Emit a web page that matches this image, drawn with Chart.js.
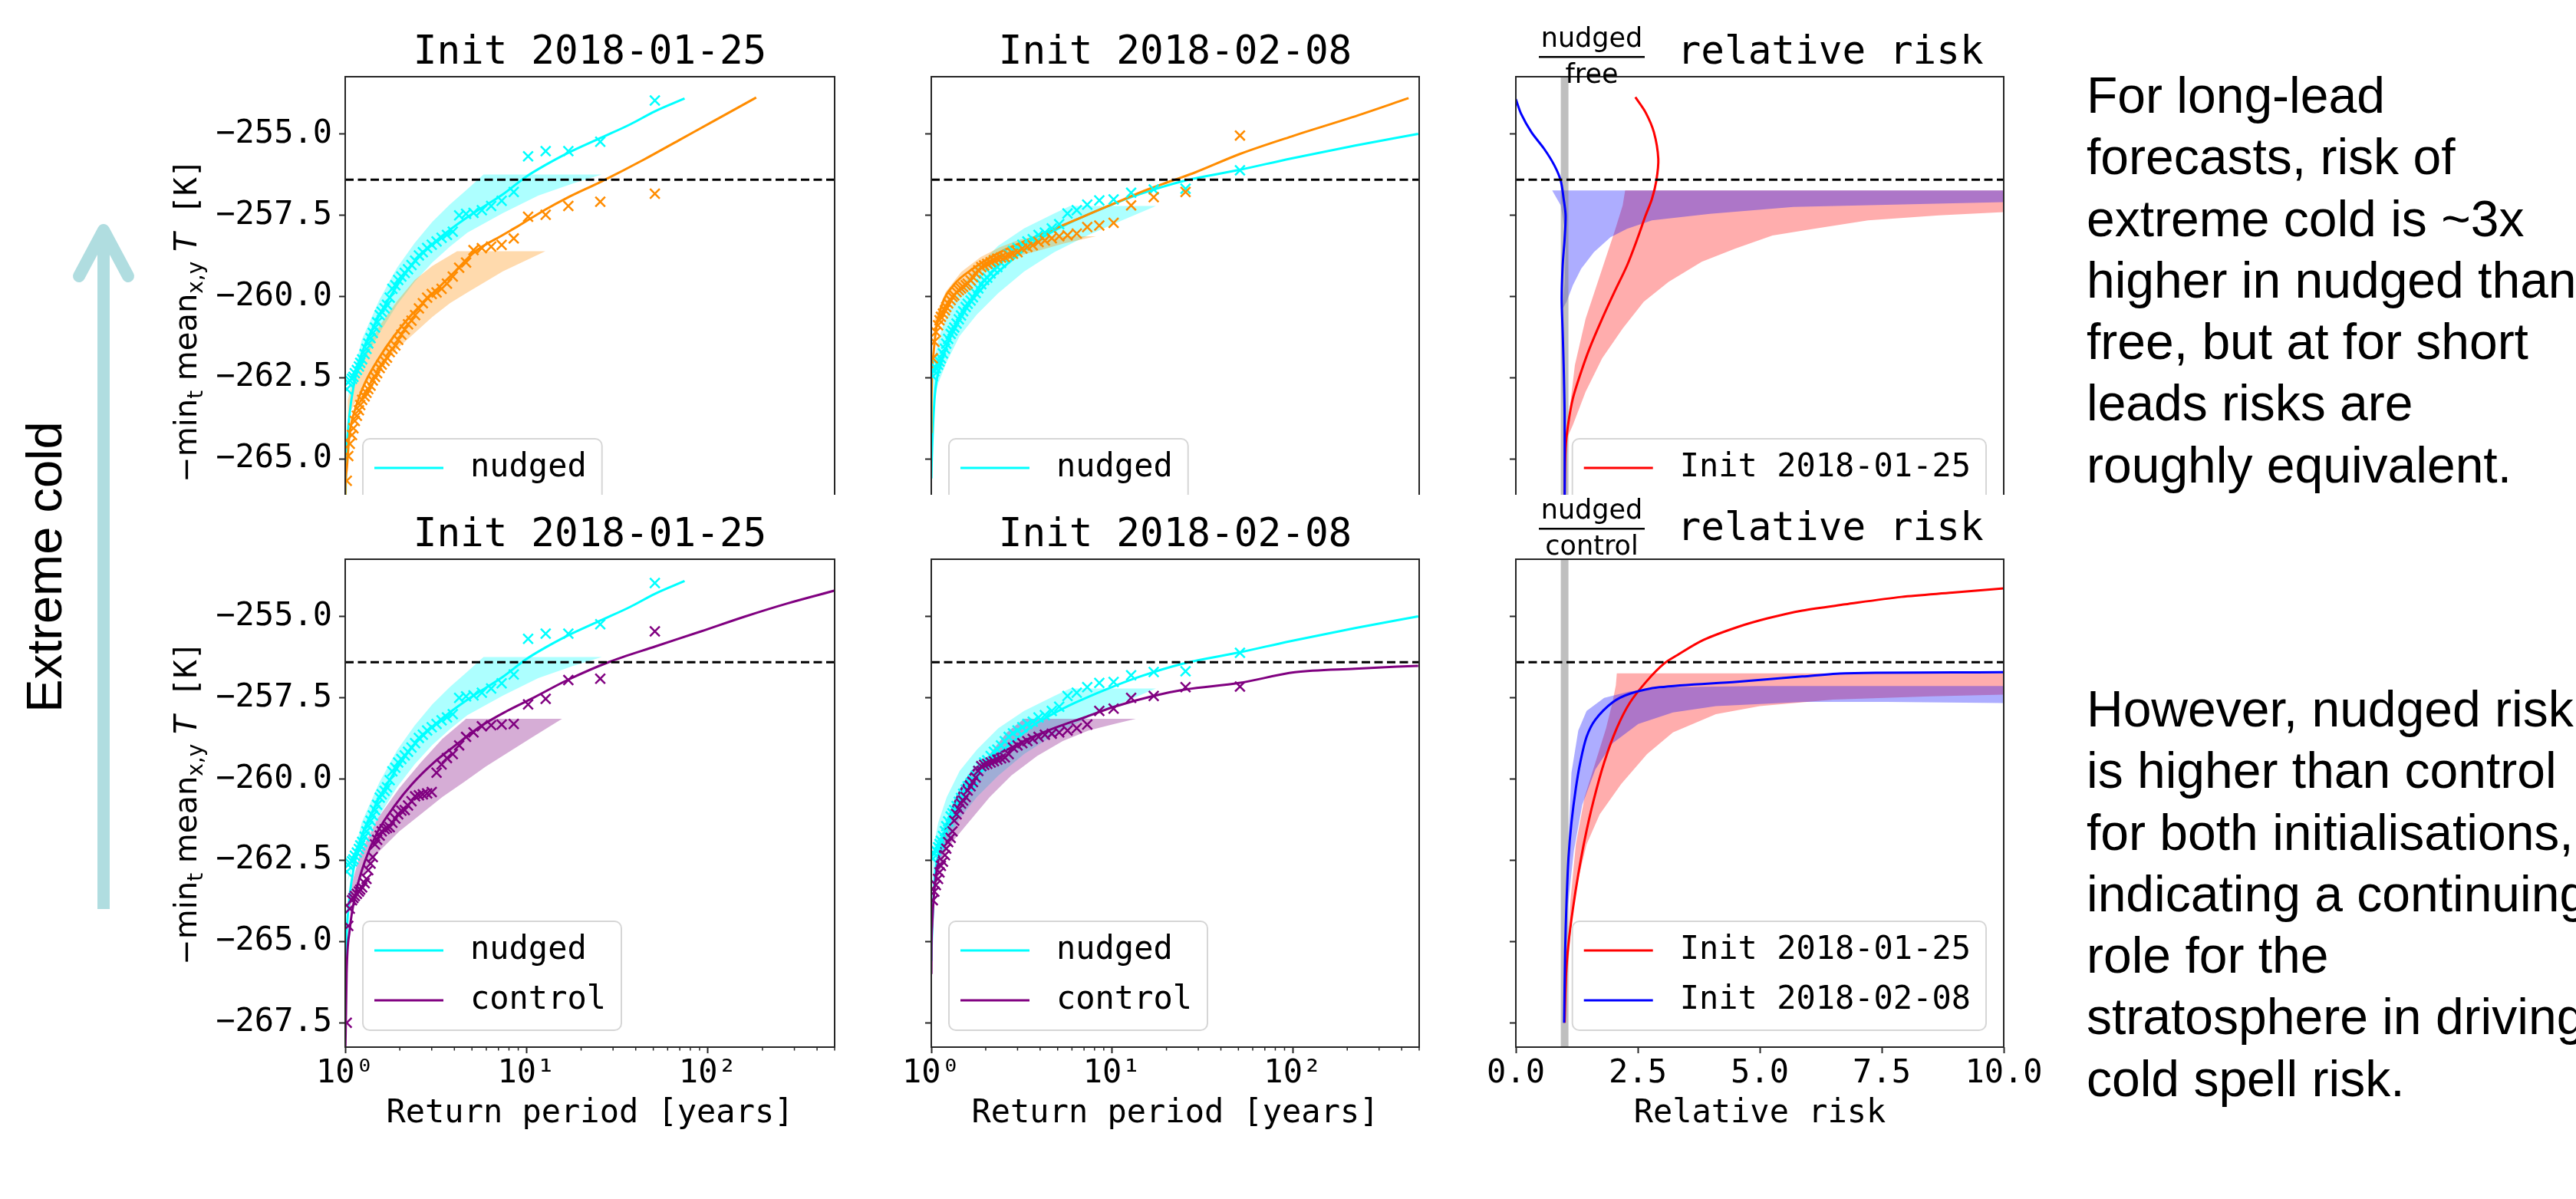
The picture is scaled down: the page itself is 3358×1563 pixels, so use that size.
<!DOCTYPE html>
<html>
<head>
<meta charset="utf-8">
<title>Extreme cold return periods and relative risk</title>
<script src="https://cdn.jsdelivr.net/npm/chart.js@4.4.1/dist/chart.umd.min.js"></script>
<style>
  html, body { margin: 0; padding: 0; background: #fff; }
  body { position: relative; width: 3358px; height: 1563px; overflow: hidden; font-family: "Liberation Sans", Arial, sans-serif; }
  canvas { position: absolute; }
  #toprow { position: absolute; left: 0; top: 0; width: 3358px; height: 645px; overflow: hidden; }
  #side { position: absolute; left: -142px; top: 699px; width: 400px; height: 80px; line-height: 80px; font-size: 65px; text-align: center; transform: rotate(-90deg); white-space: nowrap; color: #000; }
  .note { position: absolute; left: 2720px; font-size: 66px; line-height: 80.3px; white-space: nowrap; color: #000; }
</style>
</head>
<body>
<svg width="300" height="1563" style="position:absolute;left:0;top:0">
  <line x1="135" y1="1185" x2="135" y2="302" stroke="#b0dde0" stroke-width="16"/>
  <polyline points="103,360 135,300 167,360" fill="none" stroke="#b0dde0" stroke-width="16" stroke-linecap="round" stroke-linejoin="round"/>
</svg>
<div id="side">Extreme cold</div>

<div id="toprow">
  <canvas id="tl" width="948" height="830" style="left:200px;top:28px"></canvas>
  <canvas id="tm" width="756" height="830" style="left:1154px;top:28px"></canvas>
  <canvas id="tr" width="756" height="830" style="left:1916px;top:28px"></canvas>
</div>
<canvas id="bl" width="948" height="830" style="left:200px;top:657px"></canvas>
<canvas id="bm" width="756" height="830" style="left:1154px;top:657px"></canvas>
<canvas id="br" width="756" height="838" style="left:1916px;top:649px"></canvas>

<div class="note" style="top:84px">For long-lead<br>forecasts, risk of<br>extreme cold is ~3x<br>higher in nudged than<br>free, but at for short<br>leads risks are<br>roughly equivalent.</div>
<div class="note" style="top:884px">However, nudged risk<br>is higher than control<br>for both initialisations,<br>indicating a continuing<br>role for the<br>stratosphere in driving<br>cold spell risk.</div>

<script>
// axis setup
const Y_MIN = -268.25, Y_MAX = -253.23;
const yTicks = [-267.5, -265, -262.5, -260, -257.5, -255];
const logMajorTicks = [1, 10, 100];
const logMinorTicks = [2, 3, 4, 5, 6, 7, 8, 9, 20, 30, 40, 50, 60, 70, 80, 90, 200, 300, 400, 500];
const riskTicks = [0, 2.5, 5, 7.5, 10];
const thresholdK = -256.4;

// empirical return periods of the ranked members [years]
const returnPeriods = [51, 25.5, 17, 12.75, 10.2, 8.5, 7.29, 6.38, 5.67, 5.1, 4.64, 4.25, 3.92, 3.64, 3.4, 3.19, 3.0, 2.83, 2.68, 2.55,
  2.43, 2.32, 2.22, 2.13, 2.04, 1.96, 1.89, 1.82, 1.76, 1.7, 1.65, 1.59, 1.55, 1.5, 1.46, 1.42, 1.38, 1.34, 1.31, 1.28,
  1.24, 1.21, 1.19, 1.16, 1.13, 1.11, 1.09, 1.06, 1.04, 1.02];

// -min_t mean_xy T [K] of each member, same order as returnPeriods
const nudgedJan25 = [-253.96, -255.23, -255.52, -255.52, -255.68, -256.78, -257.05, -257.21, -257.34, -257.42, -257.45, -257.50, -258.00, -258.10, -258.19, -258.30, -258.40, -258.50, -258.63, -258.73,
  -258.89, -259.03, -259.16, -259.27, -259.38, -259.49, -259.65, -259.76, -260.03, -260.25, -260.36, -260.47, -260.57, -260.79, -260.95, -261.12, -261.28, -261.44, -261.61, -261.77,
  -261.93, -262.04, -262.15, -262.26, -262.36, -262.47, -262.53, -262.58, -262.64, -262.85];
const freeJan25 = [-256.83, -257.08, -257.21, -257.48, -257.54, -258.21, -258.41, -258.46, -258.51, -258.57, -258.95, -259.11, -259.38, -259.60, -259.76, -259.87, -259.92, -260.03, -260.20, -260.36,
  -260.57, -260.74, -260.85, -261.01, -261.17, -261.33, -261.50, -261.61, -261.71, -261.88, -261.98, -262.09, -262.20, -262.36, -262.47, -262.58, -262.74, -262.85, -262.96, -263.07,
  -263.18, -263.34, -263.50, -263.67, -263.83, -264.05, -264.26, -264.53, -264.91, -265.67];
const controlJan25 = [-255.45, -256.91, -256.95, -257.53, -257.70, -258.30, -258.32, -258.34, -258.37, -258.56, -258.70, -258.96, -259.23, -259.35, -259.55, -259.80, -260.40, -260.44, -260.47, -260.50,
  -260.53, -260.68, -260.81, -260.95, -260.97, -261.08, -261.21, -261.34, -261.48, -261.50, -261.54, -261.61, -261.74, -261.87, -262.01, -262.40, -262.60, -262.80, -263.07, -263.20,
  -263.33, -263.40, -263.46, -263.53, -263.60, -263.66, -263.73, -263.99, -264.52, -267.50];
const nudgedFeb08 = [-256.11, -256.68, -256.70, -256.80, -257.01, -257.04, -257.17, -257.34, -257.44, -257.77, -257.90, -258.03, -258.10, -258.23, -258.30, -258.40, -258.50, -258.59, -258.70, -258.83,
  -258.96, -259.09, -259.16, -259.29, -259.42, -259.49, -259.62, -259.75, -259.89, -260.02, -260.12, -260.22, -260.32, -260.45, -260.58, -260.70, -260.83, -260.95, -261.05, -261.15,
  -261.30, -261.45, -261.60, -261.75, -261.90, -262.00, -262.10, -262.20, -262.30, -262.45];
const freeFeb08 = [-255.04, -256.78, -256.94, -257.19, -257.73, -257.81, -257.86, -258.06, -258.11, -258.14, -258.20, -258.27, -258.32, -258.42, -258.47, -258.52, -258.63, -258.68, -258.73, -258.78,
  -258.80, -258.83, -258.88, -258.94, -258.99, -259.04, -259.09, -259.19, -259.29, -259.40, -259.50, -259.60, -259.65, -259.70, -259.75, -259.80, -259.86, -259.96, -260.01, -260.11,
  -260.21, -260.32, -260.42, -260.52, -260.62, -260.73, -260.88, -261.09, -261.39, -261.90];
const controlFeb08 = [-257.15, -257.17, -257.44, -257.50, -257.83, -257.90, -258.32, -258.43, -258.50, -258.56, -258.60, -258.63, -258.70, -258.76, -258.83, -258.89, -258.96, -259.03, -259.23, -259.33,
  -259.36, -259.40, -259.45, -259.49, -259.53, -259.56, -259.60, -259.75, -259.95, -260.09, -260.22, -260.35, -260.55, -260.66, -260.75, -260.92, -261.08, -261.28, -261.61, -261.81,
  -261.94, -262.14, -262.34, -262.54, -262.67, -262.87, -263.07, -263.26, -263.46, -263.73];

// fitted return level curves [return period, K]
const nudgedJan25Fit = [[1.002, -266.6], [1.01, -265.35], [1.03, -264.3], [1.08, -263.2], [1.18, -262.1], [1.41, -261.0], [1.77, -260.0], [2.31, -259.05], [3.31, -258.2],
  [4.73, -257.55], [7.41, -256.85], [10, -256.3], [12.7, -255.95], [16.6, -255.6], [26, -255.1], [37.2, -254.7], [50.8, -254.3], [74.4, -253.9]];
const freeJan25Fit = [[1.001, -266.5], [1.003, -265.9], [1.018, -265.35], [1.055, -264.26], [1.13, -263.5], [1.29, -262.64], [1.54, -261.88], [1.85, -261.23], [2.31, -260.57],
  [3.02, -259.92], [3.96, -259.27], [5.18, -258.62], [7.41, -258.1], [8.86, -257.85], [12.7, -257.32], [16.6, -256.97], [26, -256.45], [44.4, -255.78], [69.5, -255.18], [108.9, -254.58], [184.7, -253.87]];
const controlJan25Fit = [[1.002, -268.3], [1.007, -267.6], [1.018, -265.98], [1.058, -264.66], [1.149, -263.46], [1.282, -262.54], [1.512, -261.61], [1.88, -260.81], [2.34, -260.15],
  [3.08, -259.49], [4.05, -258.96], [5.62, -258.36], [7.81, -257.9], [10.86, -257.5], [16.8, -256.95], [28.3, -256.4], [51.6, -255.91], [91.8, -255.45], [158.8, -255.0], [274.6, -254.59], [504, -254.19]];
const nudgedFeb08Fit = [[1.001, -265.6], [1.003, -265.32], [1.011, -264.66], [1.045, -263.07], [1.122, -262.14], [1.286, -261.21], [1.602, -260.28], [2.106, -259.49], [2.77, -258.89],
  [3.64, -258.36], [4.79, -257.97], [6.3, -257.64], [9.24, -257.24], [14.3, -256.84], [24.8, -256.44], [50.5, -256.1], [97.3, -255.75], [221, -255.35], [494, -254.99]];
const freeFeb08Fit = [[1.001, -264.2], [1.003, -263.13], [1.023, -261.9], [1.059, -261.08], [1.142, -260.27], [1.326, -259.65], [1.7, -259.14], [2.41, -258.63], [3.96, -258.11],
  [6.51, -257.6], [10.7, -257.09], [14.45, -256.78], [21.5, -256.43], [29, -256.17], [50.9, -255.61], [100.7, -255.05], [212.6, -254.48], [437, -253.89]];
const controlFeb08Fit = [[1.001, -266.0], [1.003, -265.19], [1.011, -264.52], [1.033, -263.6], [1.08, -262.67], [1.153, -261.87], [1.252, -261.21], [1.359, -260.68], [1.475, -260.28],
  [1.602, -259.95], [1.74, -259.69], [1.94, -259.52], [2.22, -259.29], [2.77, -259.03], [3.45, -258.76], [4.79, -258.43], [7.03, -258.1], [10.3, -257.77], [16.9, -257.44], [25.4, -257.24],
  [50.4, -257.04], [102.8, -256.71], [221, -256.6], [494, -256.51]];

// uncertainty bands [return period, K]: upper and lower edges
const nudgedJan25BandUpper = [[1.023, -263.18], [1.234, -261.33], [1.546, -260.09], [1.932, -259.11], [2.416, -258.35], [3.02, -257.7], [3.78, -257.16], [4.72, -256.69], [5.79, -256.24], [26, -256.24]];
const nudgedJan25BandLower = [[1.023, -263.18], [1.234, -262.09], [1.546, -261.12], [1.932, -260.25], [2.416, -259.54], [3.02, -258.95], [3.78, -258.46], [4.72, -258.03], [7.41, -257.43], [11.6, -256.89], [18.1, -256.51], [26, -256.24]];
const freeJan25BandUpper = [[1.032, -263.18], [1.234, -261.88], [1.546, -260.9], [1.932, -260.14], [2.416, -259.49], [3.02, -259.06], [3.78, -258.73], [4.14, -258.6], [12.7, -258.6]];
const freeJan25BandLower = [[1.032, -263.72], [1.234, -262.85], [1.546, -262.2], [1.932, -261.61], [2.416, -261.12], [3.02, -260.63], [3.78, -260.2], [4.72, -259.87], [7.4, -259.22], [12.7, -258.6]];
const controlJan25BandUpper = [[1.058, -263.46], [1.213, -262.27], [1.51, -261.21], [1.987, -260.28], [2.61, -259.49], [3.43, -258.76], [4.64, -258.14], [15.7, -258.14]];
const controlJan25BandLower = [[1.058, -263.99], [1.213, -263.07], [1.51, -262.27], [1.987, -261.61], [2.61, -261.08], [3.43, -260.55], [4.52, -260.09], [5.94, -259.62], [7.81, -259.2], [10.85, -258.7], [15.7, -258.14]];
const nudgedFeb08BandUpper = [[1.022, -262.14], [1.092, -261.34], [1.218, -260.55], [1.435, -259.75], [1.787, -259.09], [2.35, -258.43], [3.26, -257.9], [4.79, -257.44], [5.86, -257.21], [17.5, -257.21]];
const nudgedFeb08BandLower = [[1.022, -263.33], [1.092, -262.67], [1.218, -262.01], [1.435, -261.21], [1.787, -260.55], [2.35, -259.89], [3.26, -259.23], [4.79, -258.63], [7.42, -258.1], [11.5, -257.64], [17.5, -257.21]];
const freeFeb08BandUpper = [[1.044, -260.68], [1.2, -259.86], [1.464, -259.24], [1.878, -258.78], [2.409, -258.47], [3.09, -258.24], [3.96, -258.14], [8.15, -258.14]];
const freeFeb08BandLower = [[1.044, -261.09], [1.2, -260.37], [1.464, -259.75], [1.878, -259.24], [2.409, -258.93], [3.09, -258.73], [3.96, -258.58], [5.34, -258.37], [8.15, -258.14]];
const controlFeb08BandUpper = [[1.033, -263.07], [1.218, -261.34], [1.602, -259.89], [2.106, -259.23], [2.62, -258.56], [3.26, -258.14], [13.55, -258.14]];
const controlFeb08BandLower = [[1.033, -263.46], [1.218, -262.14], [1.602, -261.34], [2.106, -260.55], [2.77, -259.89], [3.85, -259.29], [5.34, -258.83], [7.42, -258.5], [10.3, -258.3], [13.55, -258.14]];

// relative risk curves [ratio, K]
const riskFreeJan25 = [[2.45, -253.86], [2.66, -254.33], [2.83, -254.94], [2.92, -255.76], [2.88, -256.43], [2.79, -256.99], [2.66, -257.5], [2.49, -258.22], [2.28, -259.04],
  [2.02, -259.86], [1.77, -260.68], [1.51, -261.6], [1.34, -262.31], [1.17, -263.13], [1.07, -263.95], [1.02, -264.67], [1.0, -266.1], [1.0, -267.6]];
const riskFreeFeb08 = [[0, -253.92], [0.11, -254.38], [0.32, -254.94], [0.58, -255.45], [0.79, -255.96], [0.92, -256.43], [0.98, -256.99], [1.02, -257.5], [1.0, -258.22],
  [0.96, -259.04], [0.94, -260.06], [0.96, -261.09], [0.98, -262.11], [1.0, -263.65], [1.0, -267.6]];
const riskControlJan25 = [[10, -254.13], [8.95, -254.26], [7.9, -254.39], [6.75, -254.62], [5.87, -254.81], [5.16, -255.05], [4.54, -255.32], [3.84, -255.72], [3.31, -256.18],
  [3.04, -256.44], [2.69, -256.97], [2.34, -257.64], [2.07, -258.43], [1.81, -259.49], [1.59, -260.68], [1.41, -261.87], [1.28, -262.93], [1.17, -263.99], [1.08, -265.05], [1.03, -265.98], [1.0, -267.5]];
const riskControlFeb08 = [[10, -256.71], [6.75, -256.74], [5.87, -256.84], [4.54, -257.0], [2.95, -257.17], [2.34, -257.37], [1.98, -257.64], [1.63, -258.17], [1.45, -258.7],
  [1.32, -259.49], [1.23, -260.28], [1.14, -261.34], [1.08, -262.4], [1.04, -263.73], [1.01, -265.32], [0.99, -267.5]];

// relative risk bands: edge A and edge B, both ending at the lower tip
const riskFreeJan25BandA = [[2.24, -256.73], [2.19, -257.19], [2.02, -258.01], [1.68, -259.55], [1.43, -260.68], [1.21, -262.11], [1.09, -263.65], [1.02, -264.46]];
const riskFreeJan25BandB = [[10, -256.73], [10, -257.4], [8.67, -257.5], [7.22, -257.65], [6.11, -257.91], [5.26, -258.12], [4.5, -258.52], [3.81, -258.93], [3.13, -259.55],
  [2.62, -260.16], [2.19, -260.98], [1.77, -261.9], [1.43, -262.93], [1.17, -263.95], [1.02, -264.46]];
const riskFreeFeb08BandA = [[0.745, -256.73], [0.92, -257.19], [0.99, -257.81], [1.02, -258.52], [1.0, -259.55], [0.96, -260.37]];
const riskFreeFeb08BandB = [[10, -256.73], [10, -257.09], [5.69, -257.24], [3.98, -257.45], [2.79, -257.65], [2.28, -257.91], [1.94, -258.17], [1.6, -258.63], [1.34, -259.14],
  [1.17, -259.65], [1.04, -260.16], [0.96, -260.37]];
const riskControlJan25BandA = [[2.07, -256.74], [2.05, -257.11], [1.98, -257.64], [1.85, -258.43], [1.63, -259.49], [1.41, -260.55], [1.23, -262.01], [1.12, -263.73], [1.06, -265.32], [1.01, -267.3]];
const riskControlJan25BandB = [[10, -256.74], [10, -257.4], [8.5, -257.45], [6.5, -257.55], [5.0, -257.75], [4.1, -258.0], [3.22, -258.56], [2.69, -259.23], [2.16, -260.15],
  [1.72, -261.08], [1.45, -262.01], [1.28, -263.07], [1.14, -264.39], [1.06, -265.98], [1.01, -267.3]];
const riskControlFeb08BandA = [[10, -257.13], [4.98, -257.13], [3.22, -257.17], [2.34, -257.3], [1.81, -257.5], [1.45, -257.9], [1.28, -258.5], [1.14, -259.8], [1.08, -261.8], [1.06, -264.0]];
const riskControlFeb08BandB = [[10, -257.66], [7.6, -257.62], [5.9, -257.62], [4.1, -257.75], [3.22, -257.95], [2.51, -258.3], [1.98, -258.9], [1.63, -259.7], [1.36, -260.8], [1.19, -262.2], [1.06, -264.0]];

const CYAN = '#00ffff', ORANGE = '#ff8c00', PURPLE = '#800080', RED = '#ff0000', BLUE = '#0000ff';
const AXIS = '#262626';
const supLabel = {1: '10\u2070', 10: '10\u00b9', 100: '10\u00b2'};

Chart.defaults.font.family = '"DejaVu Sans Mono", monospace';
Chart.defaults.color = '#000';

const pts = (ts, ks) => ts.map((t, i) => ({x: t, y: ks[i]}));
const xy = pairs => pairs.map(p => ({x: p[0], y: p[1]}));
const polygon = (a, b) => xy(a.concat(b.slice().reverse()));
const alpha = (hex, a) => {
  const n = parseInt(hex.slice(1), 16);
  return `rgba(${n >> 16},${(n >> 8) & 255},${n & 255},${a})`;
};

function bandSet(label, poly, color, order) {
  return {type: 'line', label, data: poly, fill: 'shape', backgroundColor: alpha(color, 0.32),
    borderColor: 'rgba(0,0,0,0)', borderWidth: 0, pointRadius: 0, tension: 0, order};
}
function fitSet(label, pairs, color, order, monotone) {
  const ds = {type: 'line', label, data: xy(pairs), borderColor: color, borderWidth: 3, pointRadius: 0, fill: false, order};
  if (monotone) ds.cubicInterpolationMode = 'monotone'; else ds.tension = 0.3;
  return ds;
}
function scatterSet(label, ks, color, order) {
  return {type: 'scatter', label, data: pts(returnPeriods, ks), pointStyle: 'crossRot', pointRadius: 9,
    borderColor: color, backgroundColor: color, borderWidth: 2.5, order};
}
function thresholdSet(x0, x1) {
  return {type: 'line', label: 'threshold', data: [{x: x0, y: thresholdK}, {x: x1, y: thresholdK}],
    borderColor: '#000', borderDash: [11, 5.5], borderWidth: 3, pointRadius: 0, order: 0};
}
function unitSet() {
  return {type: 'line', label: 'ratio 1', data: [{x: 1, y: Y_MIN}, {x: 1, y: Y_MAX}],
    borderColor: 'rgba(128,128,128,0.5)', borderWidth: 10, pointRadius: 0, order: 9};
}

// legend boxes, fraction titles, y label and frame
const extras = {};

function roundRect(ctx, x, y, w, h, r) {
  ctx.beginPath();
  ctx.moveTo(x + r, y);
  ctx.arcTo(x + w, y, x + w, y + h, r);
  ctx.arcTo(x + w, y + h, x, y + h, r);
  ctx.arcTo(x, y + h, x, y, r);
  ctx.arcTo(x, y, x + w, y, r);
  ctx.closePath();
}

Chart.register({
  id: 'panelDecor',
  afterDatasetsDraw(chart) {
    const e = extras[chart.canvas.id];
    if (!e) return;
    const {ctx, chartArea: a} = chart;
    ctx.save();
    ctx.strokeStyle = AXIS;
    if (e.minor) {
      const xs = chart.scales.x;
      ctx.lineWidth = 1.5;
      e.minor.forEach(v => {
        const px = xs.getPixelForValue(v);
        ctx.beginPath(); ctx.moveTo(px, a.bottom); ctx.lineTo(px, a.bottom + 4.5); ctx.stroke();
      });
    }
    ctx.lineWidth = 2;
    ctx.strokeRect(a.left, a.top, a.right - a.left, a.bottom - a.top);
    ctx.restore();
  },
  afterDraw(chart) {
    const e = extras[chart.canvas.id];
    if (!e) return;
    const {ctx, chartArea: a} = chart;
    ctx.save();

    if (e.legend) {
      ctx.font = '42px "DejaVu Sans Mono"';
      const tw = Math.max(...e.legend.items.map(it => ctx.measureText(it.label).width));
      const w = 160 + tw, h = 142;
      const x = e.legend.side === 'right' ? a.right - 23 - w : a.left + 23;
      const y = a.bottom - 22 - h;
      roundRect(ctx, x, y, w, h, 9);
      ctx.fillStyle = 'rgba(255,255,255,0.8)';
      ctx.fill();
      ctx.strokeStyle = '#d6d6d6';
      ctx.lineWidth = 2;
      ctx.stroke();
      e.legend.items.forEach((it, i) => {
        const cy = y + 38 + 65 * i;
        ctx.strokeStyle = it.color;
        ctx.lineWidth = 3;
        ctx.beginPath(); ctx.moveTo(x + 15, cy); ctx.lineTo(x + 105, cy); ctx.stroke();
        ctx.fillStyle = '#000';
        ctx.textBaseline = 'middle';
        ctx.textAlign = 'left';
        ctx.fillText(it.label, x + 140, cy);
      });
    }

    if (e.frac) {
      const cx = a.left + 99;
      const base = a.top - e.frac.gap;
      ctx.font = '35px "DejaVu Sans"';
      ctx.fillStyle = '#000';
      ctx.textAlign = 'center';
      ctx.textBaseline = 'alphabetic';
      ctx.fillText(e.frac.num, cx, base - 26);
      ctx.fillText(e.frac.den, cx, base + 21);
      ctx.fillRect(cx - 69, base - 14, 138, 2.5);
    }

    if (e.yLabel) {
      const parts = [
        {t: '\u2212min', f: '40px "DejaVu Sans"', dy: 0},
        {t: 't', f: '28px "DejaVu Sans"', dy: 8},
        {t: ' mean', f: '40px "DejaVu Sans"', dy: 0},
        {t: 'x,y', f: '28px "DejaVu Sans"', dy: 8},
        {t: ' T', f: 'italic 40px "DejaVu Sans"', dy: 0},
        {t: ' [K]', f: '40px "DejaVu Sans Mono"', dy: 0}
      ];
      let total = 0;
      parts.forEach(p => { ctx.font = p.f; p.w = ctx.measureText(p.t).width; total += p.w; });
      ctx.translate(a.left - 194, (a.top + a.bottom) / 2);
      ctx.rotate(-Math.PI / 2);
      ctx.fillStyle = '#000';
      ctx.textAlign = 'left';
      ctx.textBaseline = 'alphabetic';
      let x = -total / 2;
      parts.forEach(p => { ctx.font = p.f; ctx.fillText(p.t, x, p.dy); x += p.w; });
    }
    ctx.restore();
  }
});

function yAxis(width, labels) {
  return {
    type: 'linear', min: Y_MIN, max: Y_MAX,
    afterBuildTicks: s => { s.ticks = yTicks.map(v => ({value: v})); },
    afterFit: s => { s.width = width; },
    ticks: {callback: v => labels ? '\u2212' + Math.abs(v).toFixed(1) : '', font: {size: 42}, padding: 9, autoSkip: false, color: '#000'},
    grid: {drawOnChartArea: false, drawTicks: true, tickLength: 8, tickWidth: 2, tickColor: AXIS},
    border: {display: false}
  };
}
function logXAxis() {
  return {
    type: 'logarithmic', min: 1, max: 500,
    afterBuildTicks: s => { s.ticks = logMajorTicks.map(v => ({value: v})); },
    afterFit: s => { s.height = 122; },
    ticks: {callback: v => supLabel[v] || '', font: {size: 42}, padding: 2, maxRotation: 0, minRotation: 0, autoSkip: false, color: '#000'},
    grid: {drawOnChartArea: false, drawTicks: true, tickLength: 8, tickWidth: 2, tickColor: AXIS},
    border: {display: false},
    title: {display: true, text: 'Return period [years]', font: {size: 42}, padding: {top: 0, bottom: 10}, color: '#000'}
  };
}
function riskXAxis() {
  return {
    type: 'linear', min: 0, max: 10,
    afterBuildTicks: s => { s.ticks = riskTicks.map(v => ({value: v})); },
    afterFit: s => { s.height = 122; },
    ticks: {callback: v => v.toFixed(1), font: {size: 42}, padding: 2, maxRotation: 0, minRotation: 0, autoSkip: false, color: '#000'},
    grid: {drawOnChartArea: false, drawTicks: true, tickLength: 8, tickWidth: 2, tickColor: AXIS},
    border: {display: false},
    title: {display: true, text: 'Relative risk', font: {size: 42}, padding: {top: 0, bottom: 10}, color: '#000'}
  };
}

function panel(id, o) {
  extras[id] = {legend: o.legend, frac: o.frac, yLabel: o.yLabel, minor: o.log ? logMinorTicks : null};
  new Chart(document.getElementById(id), {
    type: 'scatter',
    data: {datasets: o.datasets},
    options: {
      responsive: false,
      animation: false,
      events: [],
      layout: {padding: {left: 0, right: 60, top: 0, bottom: 0}},
      scales: {x: o.log ? logXAxis() : riskXAxis(), y: yAxis(o.yW, o.yLabels)},
      plugins: {
        legend: {display: false},
        tooltip: {enabled: false},
        // not full size, so the title is centred over the plot area
        title: {display: true, fullSize: false, text: o.title, color: '#000', font: {size: 51, weight: 'normal'},
          padding: {top: 10.8, bottom: o.titleGap || 0}}
      }
    }
  });
}

function returnPanel(id, title, yW, labels, nudged, other) {
  panel(id, {
    log: true, title, yW, yLabels: labels, yLabel: labels,
    legend: {side: 'left', items: [{label: 'nudged', color: CYAN}, {label: other.label, color: other.color}]},
    datasets: [
      bandSet('nudged band', polygon(nudged.upper, nudged.lower), CYAN, 11),
      bandSet(other.label + ' band', polygon(other.upper, other.lower), other.color, 10),
      fitSet('nudged fit', nudged.fit, CYAN, 5, true),
      fitSet(other.label + ' fit', other.fit, other.color, 4, true),
      scatterSet('nudged', nudged.vals, CYAN, 3),
      scatterSet(other.label, other.vals, other.color, 2),
      thresholdSet(1, 500)
    ]
  });
}

const nudgedJan = {fit: nudgedJan25Fit, vals: nudgedJan25, upper: nudgedJan25BandUpper, lower: nudgedJan25BandLower};
const nudgedFeb = {fit: nudgedFeb08Fit, vals: nudgedFeb08, upper: nudgedFeb08BandUpper, lower: nudgedFeb08BandLower};

returnPanel('tl', 'Init 2018-01-25', 250, true, nudgedJan,
  {label: 'free', color: ORANGE, fit: freeJan25Fit, vals: freeJan25, upper: freeJan25BandUpper, lower: freeJan25BandLower});
returnPanel('tm', 'Init 2018-02-08', 60, false, nudgedFeb,
  {label: 'free', color: ORANGE, fit: freeFeb08Fit, vals: freeFeb08, upper: freeFeb08BandUpper, lower: freeFeb08BandLower});
returnPanel('bl', 'Init 2018-01-25', 250, true, nudgedJan,
  {label: 'control', color: PURPLE, fit: controlJan25Fit, vals: controlJan25, upper: controlJan25BandUpper, lower: controlJan25BandLower});
returnPanel('bm', 'Init 2018-02-08', 60, false, nudgedFeb,
  {label: 'control', color: PURPLE, fit: controlFeb08Fit, vals: controlFeb08, upper: controlFeb08BandUpper, lower: controlFeb08BandLower});

function riskPanel(id, den, titleGap, fracGap, jan, janA, janB, feb, febA, febB) {
  panel(id, {
    log: false, title: '      relative risk', titleGap, yW: 60, yLabels: false, yLabel: false,
    frac: {num: 'nudged', den, gap: fracGap},
    legend: {side: 'right', items: [{label: 'Init 2018-01-25', color: RED}, {label: 'Init 2018-02-08', color: BLUE}]},
    datasets: [
      bandSet('Init 2018-01-25 band', polygon(janA, janB), RED, 11),
      bandSet('Init 2018-02-08 band', polygon(febA, febB), BLUE, 10),
      unitSet(),
      fitSet('Init 2018-01-25', jan, RED, 5, false),
      fitSet('Init 2018-02-08', feb, BLUE, 4, false),
      thresholdSet(0, 10)
    ]
  });
}

riskPanel('tr', 'free', 0, 13, riskFreeJan25, riskFreeJan25BandA, riskFreeJan25BandB, riskFreeFeb08, riskFreeFeb08BandA, riskFreeFeb08BandB);
riskPanel('br', 'control', 8, 27, riskControlJan25, riskControlJan25BandA, riskControlJan25BandB, riskControlFeb08, riskControlFeb08BandA, riskControlFeb08BandB);
</script>
</body>
</html>
